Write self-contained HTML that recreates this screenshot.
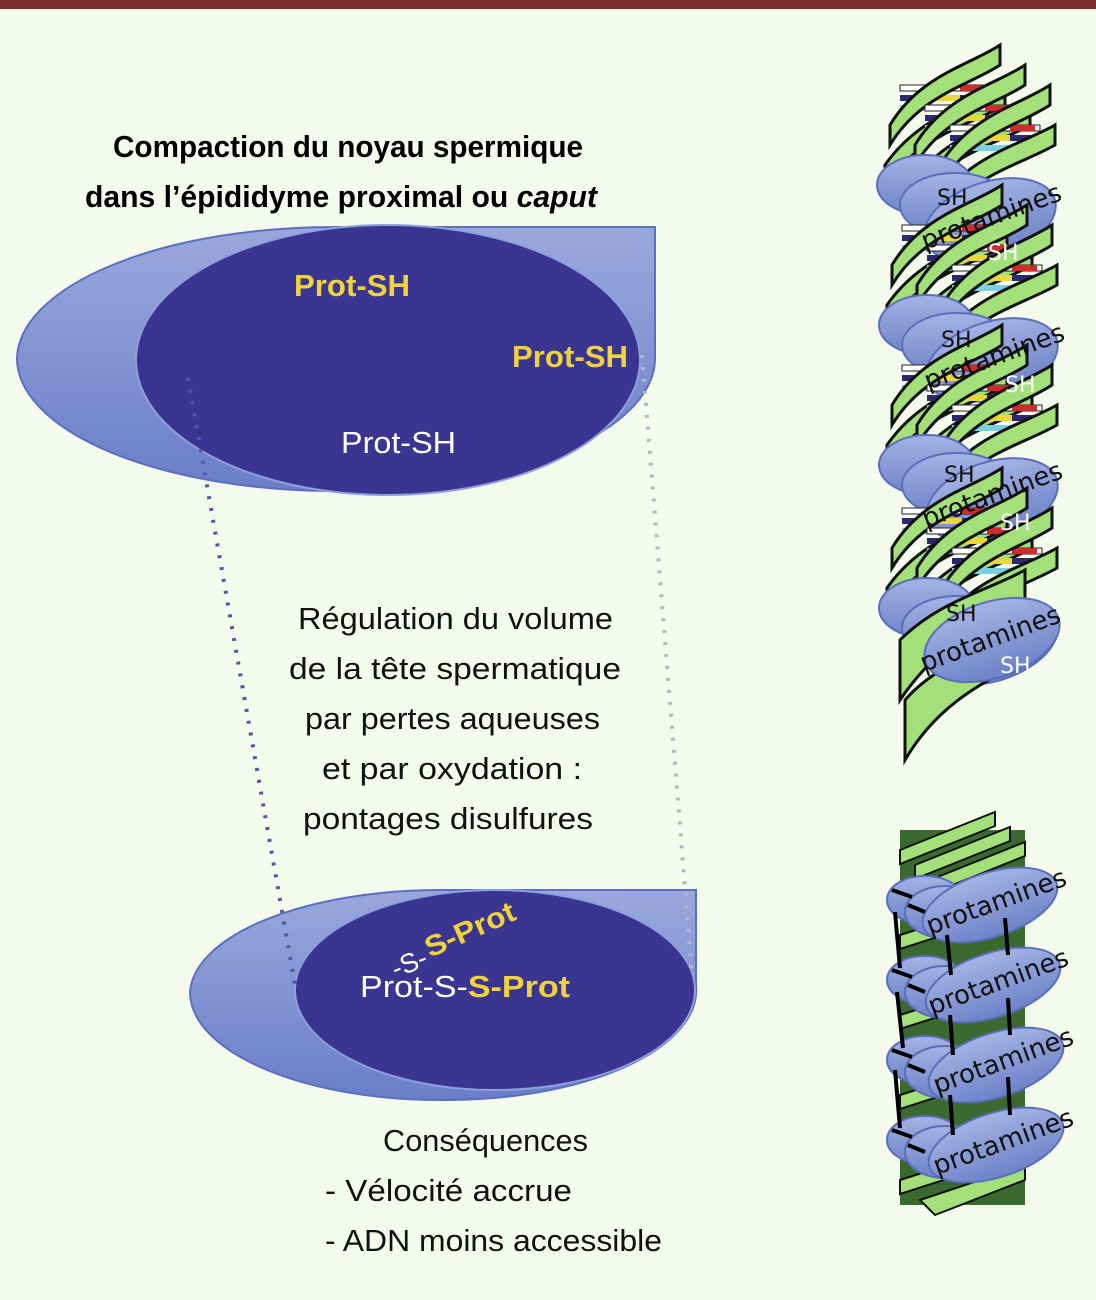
<!DOCTYPE html>
<html><head><meta charset="utf-8"><style>
html,body{margin:0;padding:0;background:#f4fbec;}
svg{display:block}
.n{font-family:"Liberation Sans Narrow","Liberation Sans",sans-serif;}
.p{font-family:"DejaVu Sans","Liberation Sans",sans-serif;}
</style></head><body>
<svg width="1096" height="1300" viewBox="0 0 1096 1300" xmlns="http://www.w3.org/2000/svg">
<defs>
<linearGradient id="og" x1="0" y1="0" x2="0" y2="1">
<stop offset="0" stop-color="#9aa8dc"/><stop offset="1" stop-color="#6a7ec8"/></linearGradient>
<linearGradient id="pg" x1="0" y1="0" x2="0" y2="1">
<stop offset="0" stop-color="#a5b4e4"/><stop offset="1" stop-color="#6d82c8"/></linearGradient>
<g id="helix">
<rect x="20" y="30" width="90" height="6" fill="#fff" stroke="#222" stroke-width="1"/>
<rect x="20" y="40" width="90" height="6" fill="#2b2a70"/>
<rect x="55" y="40" width="25" height="6" fill="#e8d83a"/>
<rect x="20" y="50" width="90" height="6" fill="#7ccfe0"/>
<rect x="80" y="30" width="25" height="6" fill="#d02a2a"/>
<path d="M10,70 C40,20 90,10 120,-10 L120,10 C90,30 40,40 10,90Z" fill="#a3e07a" stroke="#111" stroke-width="3"/>
<path d="M5,110 C40,60 90,50 125,30 L125,50 C90,70 40,80 5,130Z" fill="#a3e07a" stroke="#111" stroke-width="3"/>
</g>
<g id="seg1">
<use href="#helix" x="0" y="0"/><use href="#helix" x="25" y="20"/><use href="#helix" x="50" y="40"/>
<ellipse cx="45" cy="130" rx="48" ry="30" fill="url(#pg)" stroke="#5a6ebc" stroke-width="2"/>
<ellipse cx="75" cy="150" rx="55" ry="32" fill="url(#pg)" stroke="#5a6ebc" stroke-width="2"/>
<ellipse cx="110" cy="165" rx="68" ry="38" transform="rotate(-18 110 165)" fill="url(#pg)" stroke="#5a6ebc" stroke-width="2"/>
</g>
</defs>
<rect x="0" y="0" width="1096" height="9" fill="#7a2d2a"/>

<path d="M655,227 L655,360 A318,133 0 0 1 335,491 A318,133 0 0 1 17,358 A318,133 0 0 1 335,227 Z" fill="url(#og)" stroke="#5b6fc0" stroke-width="2"/>
<ellipse cx="388" cy="360" rx="252" ry="135" fill="#3b3592" stroke="#8fa0dc" stroke-width="2"/>
<text class="n" x="294" y="296" font-size="31" font-weight="bold" fill="#f0d23c" textLength="116" lengthAdjust="spacingAndGlyphs">Prot-SH</text>
<text class="n" x="512" y="367" font-size="31" font-weight="bold" fill="#f0d23c" textLength="116" lengthAdjust="spacingAndGlyphs">Prot-SH</text>
<text class="n" x="341" y="453" font-size="31" fill="#fff" textLength="115" lengthAdjust="spacingAndGlyphs">Prot-SH</text>

<text class="n" x="113" y="157" font-size="31" font-weight="bold" fill="#000" textLength="470" lengthAdjust="spacingAndGlyphs">Compaction du noyau spermique</text>
<text class="n" x="85" y="207" font-size="31" font-weight="bold" fill="#000" textLength="512" lengthAdjust="spacingAndGlyphs">dans l’épididyme proximal ou <tspan font-style="italic">caput</tspan></text>

<path d="M696,890 L696,985 A250,110 0 0 1 440,1100 A250,108 0 0 1 190,993 A250,105 0 0 1 440,890 Z" fill="url(#og)" stroke="#5b6fc0" stroke-width="2"/>
<ellipse cx="495" cy="990" rx="200" ry="100" fill="#3b3592" stroke="#8fa0dc" stroke-width="2"/>
<text class="n" x="360" y="997" font-size="31" fill="#fff" textLength="210" lengthAdjust="spacingAndGlyphs">Prot-S-<tspan font-weight="bold" fill="#f0d23c">S-Prot</tspan></text>
<text class="n" x="392" y="972" font-size="27" fill="#fff" transform="rotate(-22 410 965)">-S-</text>
<text class="n" x="430" y="958" font-size="29" font-weight="bold" fill="#f0d23c" transform="rotate(-24 430 958)" textLength="96" lengthAdjust="spacingAndGlyphs">S-Prot</text>

<line x1="188" y1="378" x2="295" y2="985" stroke="#4a5aa8" stroke-width="4" stroke-dasharray="3 9"/>
<line x1="642" y1="355" x2="692" y2="975" stroke="#a8bcc8" stroke-width="4" stroke-dasharray="3 9"/>

<g class="n" font-size="31" fill="#111" lengthAdjust="spacingAndGlyphs">
<text x="298" y="629" textLength="315" lengthAdjust="spacingAndGlyphs">Régulation du volume</text>
<text x="289" y="679" textLength="332" lengthAdjust="spacingAndGlyphs">de la tête spermatique</text>
<text x="305" y="729" textLength="295" lengthAdjust="spacingAndGlyphs">par pertes aqueuses</text>
<text x="322" y="779" textLength="260" lengthAdjust="spacingAndGlyphs">et par oxydation :</text>
<text x="303" y="829" textLength="290" lengthAdjust="spacingAndGlyphs">pontages disulfures</text>
<text x="383" y="1151" textLength="205" lengthAdjust="spacingAndGlyphs">Conséquences</text>
<text x="325" y="1201" textLength="247" lengthAdjust="spacingAndGlyphs">- Vélocité accrue</text>
<text x="325" y="1251" textLength="337" lengthAdjust="spacingAndGlyphs">- ADN moins accessible</text>
</g>

<g>
<use href="#seg1" x="880" y="55"/>
<use href="#seg1" x="882" y="195"/>
<use href="#seg1" x="882" y="335"/>
<use href="#seg1" x="882" y="478"/>
<path d="M900,640 C940,600 990,590 1025,570 L1025,600 C990,620 940,640 900,700Z" fill="#a3e07a" stroke="#111" stroke-width="3"/>
<path d="M905,700 C940,660 990,650 1025,630 L1025,660 C990,680 940,700 905,760Z" fill="#a3e07a" stroke="#111" stroke-width="3"/>
<ellipse cx="992" cy="640" rx="70" ry="38" transform="rotate(-18 992 640)" fill="url(#pg)" stroke="#5a6ebc" stroke-width="2"/>
</g>
<g class="p" font-size="26" fill="#111">
<text x="925" y="250" transform="rotate(-20 925 250)">protamines</text>
<text x="928" y="390" transform="rotate(-20 928 390)">protamines</text>
<text x="926" y="528" transform="rotate(-20 926 528)">protamines</text>
<text x="924" y="672" transform="rotate(-20 924 672)">protamines</text>
</g>
<g class="p" font-size="22">
<text x="937" y="205" fill="#111">SH</text><text x="988" y="260" fill="#fff">SH</text>
<text x="941" y="347" fill="#111">SH</text><text x="1005" y="392" fill="#fff">SH</text>
<text x="944" y="482" fill="#111">SH</text><text x="1000" y="530" fill="#fff">SH</text>
<text x="946" y="621" fill="#111">SH</text><text x="1000" y="673" fill="#fff">SH</text>
</g>

<g>
<rect x="900" y="830" width="125" height="375" fill="#3a6a30"/>
<g stroke="#111" stroke-width="2" fill="#a3e07a">
<path d="M900,850 L995,812 L995,826 L900,864Z"/><path d="M915,865 L1010,827 L1010,841 L915,879Z"/><path d="M930,880 L1025,842 L1025,856 L930,894Z"/>
<path d="M900,935 L1025,895 L1025,909 L900,949Z"/><path d="M900,1015 L1025,975 L1025,989 L900,1029Z"/>
<path d="M900,1095 L1025,1055 L1025,1069 L900,1109Z"/><path d="M900,1180 L1025,1140 L1025,1154 L900,1194Z"/>
<path d="M920,1200 L1025,1165 L1025,1180 L935,1215Z"/>
</g>
<g fill="url(#pg)" stroke="#5a6ebc" stroke-width="2">
<ellipse cx="925" cy="900" rx="38" ry="24"/><ellipse cx="945" cy="912" rx="40" ry="26"/>
<ellipse cx="990" cy="905" rx="70" ry="32" transform="rotate(-18 990 905)"/>
<ellipse cx="925" cy="980" rx="38" ry="24"/><ellipse cx="945" cy="992" rx="40" ry="26"/>
<ellipse cx="993" cy="985" rx="70" ry="32" transform="rotate(-18 993 985)"/>
<ellipse cx="925" cy="1060" rx="38" ry="24"/><ellipse cx="945" cy="1072" rx="40" ry="26"/>
<ellipse cx="996" cy="1065" rx="70" ry="32" transform="rotate(-18 996 1065)"/>
<ellipse cx="925" cy="1140" rx="38" ry="24"/><ellipse cx="945" cy="1152" rx="40" ry="26"/>
<ellipse cx="996" cy="1145" rx="70" ry="32" transform="rotate(-18 996 1145)"/>
</g>
<g stroke="#000" stroke-width="4">
<line x1="892" y1="890" x2="912" y2="897"/><line x1="908" y1="905" x2="925" y2="912"/>
<line x1="895" y1="912" x2="900" y2="968"/><line x1="947" y1="935" x2="951" y2="975"/><line x1="1005" y1="918" x2="1008" y2="955"/>
<line x1="892" y1="970" x2="912" y2="977"/><line x1="908" y1="985" x2="925" y2="992"/>
<line x1="897" y1="992" x2="903" y2="1048"/><line x1="950" y1="1015" x2="953" y2="1055"/><line x1="1008" y1="998" x2="1010" y2="1035"/>
<line x1="892" y1="1050" x2="912" y2="1057"/><line x1="908" y1="1065" x2="925" y2="1072"/>
<line x1="895" y1="1070" x2="900" y2="1128"/><line x1="950" y1="1095" x2="953" y2="1135"/><line x1="1008" y1="1077" x2="1010" y2="1115"/>
<line x1="892" y1="1130" x2="912" y2="1137"/><line x1="908" y1="1145" x2="925" y2="1152"/>
</g>
<g class="p" font-size="26" fill="#111">
<text x="930" y="935" transform="rotate(-20 930 935)">protamines</text>
<text x="932" y="1015" transform="rotate(-20 932 1015)">protamines</text>
<text x="937" y="1094" transform="rotate(-20 937 1094)">protamines</text>
<text x="937" y="1175" transform="rotate(-20 937 1175)">protamines</text>
</g>
</g>
</svg>
</body></html>
